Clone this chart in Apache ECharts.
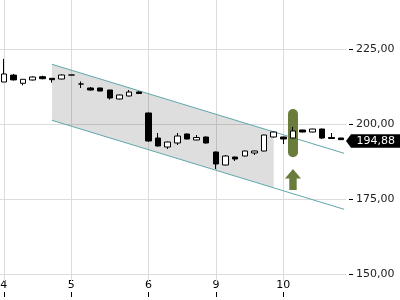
<!DOCTYPE html>
<html><head><meta charset="utf-8">
<script src="https://cdn.jsdelivr.net/npm/echarts@6/dist/echarts.min.js"></script>
<style>html,body{margin:0;padding:0;background:#fff}#c{width:400px;height:300px}</style>
</head><body><div id="c"></div>
<script>
// ---- data ----
const categories = [
  '4 09h','4 10h','4 11h','4 12h','4 13h','4 14h','4 15h',
  '5 09h','5 10h','5 11h','5 12h','5 13h','5 14h','5 15h','5 16h',
  '6 09h','6 10h','6 11h','6 12h','6 13h','6 14h','6 15h',
  '9 09h','9 10h','9 11h','9 12h','9 13h','9 14h','9 15h',
  '10 09h','10 10h','10 11h','10 12h','10 13h','10 14h','10 15h'
];
const dayStartIndex = [0, 7, 15, 22, 29];
const dayLabels = ['4', '5', '6', '9', '10'];
const openValues  = [214.1, 216.4, 213.67, 214.77, 215.87, 215.33, 215.1, 216.43, 213.43, 212.1, 212.1, 211.43, 208.43, 209.43, 210.77, 203.77, 195.43, 192.43, 193.77, 196.77, 194.77, 195.77, 190.77, 186.43, 189.1, 189.43, 190.43, 191.1, 195.77, 195.77, 195.43, 198.1, 197.43, 198.43, 195.6, 195.43];
const closeValues = [216.77, 214.8, 215.0, 215.77, 215.2, 214.87, 216.43, 216.43, 213.43, 211.43, 211.1, 208.77, 209.77, 210.77, 210.27, 194.43, 192.77, 194.1, 196.1, 195.1, 195.6, 193.77, 186.77, 189.43, 188.43, 191.1, 191.1, 196.43, 197.43, 195.1, 197.77, 197.43, 198.43, 195.43, 195.27, 194.88];
const lowValues   = [214.1, 214.6, 213.0, 214.6, 215.0, 213.87, 215.0, 216.43, 212.1, 211.2, 211.0, 208.27, 208.3, 209.3, 210.1, 194.2, 192.6, 191.77, 193.1, 195.0, 194.7, 193.6, 185.1, 186.3, 187.77, 189.3, 189.77, 191.0, 195.6, 193.43, 195.3, 197.3, 197.3, 195.1, 195.2, 194.8];
const highValues  = [221.8, 216.8, 215.0, 216.0, 216.2, 215.4, 216.6, 216.43, 214.27, 212.4, 212.2, 211.5, 209.9, 211.43, 211.0, 203.9, 197.1, 194.2, 197.1, 196.9, 196.43, 195.9, 190.9, 189.77, 189.2, 191.2, 191.2, 196.5, 197.6, 195.9, 199.1, 198.2, 198.5, 198.5, 197.1, 195.5];
const yTicks = [125, 250, 25]; // min, max, interval
// trend channel: [x position, upper value, lower value] at start and end
const channelStart = [5, 220.0, 201.33];
const channelEnd = [35.3, 190.33, 171.67];
const channelFillEnd = 28;
// signal markers
const signalIndex = 30;
const signalBar = [205.1, 189.0];
const signalArrow = [185.1, 178.1];
const lastPrice = 194.88;

// ---- chart ----
const chart = echarts.init(document.getElementById('c'), null, {renderer: 'canvas'});
const FONT = 'DejaVu Sans';
const fmt = v => v.toFixed(2).replace('.', ',');
const candleData = openValues.map((o, i) => [o, closeValues[i], lowValues[i], highValues[i]]);
const isDayStart = i => dayStartIndex.indexOf(i) >= 0;

chart.setOption({
  animation: false,
  backgroundColor: '#fff',
  grid: {left: -1, right: 54, top: -25.7, bottom: -49.3, containLabel: false, outerBoundsMode: 'none'},
  xAxis: [{
    type: 'category', data: categories, boundaryGap: true, position: 'bottom', offset: -57.3,
    axisLine: {show: true, onZero: false, lineStyle: {color: 'rgba(0,0,0,0)'}},
    axisTick: {show: true, alignWithLabel: true, interval: (i) => isDayStart(i), length: 5, inside: false, lineStyle: {color: '#000', width: 1}},
    axisLabel: {show: true, inside: true, margin: 1, interval: (i) => isDayStart(i),
      formatter: (v, i) => dayLabels[dayStartIndex.indexOf(i)] || '',
      color: '#000', fontSize: 11, fontFamily: FONT},
    splitLine: {show: false}
  }, {
    type: 'value', min: -0.5, max: 35.5, show: false
  }],
  yAxis: [{
    type: 'value', position: 'right', offset: 3, min: yTicks[0], max: yTicks[1], interval: yTicks[2],
    axisLine: {show: true, onZero: false, lineStyle: {color: 'rgba(0,0,0,0)'}},
    axisTick: {show: true, inside: false, length: 4, lineStyle: {color: '#000', width: 1}},
    axisLabel: {margin: 7, color: '#222', fontSize: 11, fontFamily: FONT, formatter: fmt},
    splitLine: {show: true, lineStyle: {color: '#dcdcdc', width: 1}}
  }],
  series: [
    { // vertical grid lines at day starts
      type: 'custom', xAxisIndex: 1, yAxisIndex: 0, silent: true, z: 1,
      data: dayStartIndex.map(i => [i]),
      renderItem: (params, api) => {
        const x = Math.round(api.coord([api.value(0), 200])[0]) + 0.5;
        return {type: 'line', shape: {x1: x, y1: 0, x2: x, y2: 281},
          style: {stroke: '#dcdcdc', lineWidth: 1}};
      }
    },
    { // channel
      type: 'custom', xAxisIndex: 1, yAxisIndex: 0, silent: true, z: 2,
      data: [[0]],
      renderItem: (params, api) => {
        const u0 = api.coord([channelStart[0], channelStart[1]]);
        const u1 = api.coord([channelEnd[0], channelEnd[1]]);
        const l0 = api.coord([channelStart[0], channelStart[2]]);
        const l1 = api.coord([channelEnd[0], channelEnd[2]]);
        const t = (channelFillEnd - channelStart[0]) / (channelEnd[0] - channelStart[0]);
        const uf = [u0[0] + (u1[0] - u0[0]) * t, u0[1] + (u1[1] - u0[1]) * t];
        const lf = [l0[0] + (l1[0] - l0[0]) * t, l0[1] + (l1[1] - l0[1]) * t];
        return {type: 'group', children: [
          {type: 'polygon', shape: {points: [u0, uf, lf, l0]}, style: {fill: 'rgba(0,0,0,0.13)'}},
          {type: 'line', shape: {x1: u0[0], y1: u0[1], x2: u1[0], y2: u1[1]}, style: {stroke: '#62a7ab', lineWidth: 1}},
          {type: 'line', shape: {x1: l0[0], y1: l0[1], x2: l1[0], y2: l1[1]}, style: {stroke: '#62a7ab', lineWidth: 1}}
        ]};
      }
    },
    { // signal markers
      type: 'custom', xAxisIndex: 1, yAxisIndex: 0, silent: true, z: 2,
      data: [[signalIndex]],
      renderItem: (params, api) => {
        const top = api.coord([api.value(0), signalBar[0]]);
        const bot = api.coord([api.value(0), signalBar[1]]);
        const tip = api.coord([api.value(0), signalArrow[0]]);
        const base = api.coord([api.value(0), signalArrow[1]]);
        const cx = top[0];
        const hy = tip[1] + 9.5;
        return {type: 'group', children: [
          {type: 'rect', shape: {x: cx - 5, y: top[1], width: 10, height: bot[1] - top[1], r: 5}, style: {fill: '#6a7c3b'}},
          {type: 'polygon', shape: {points: [[cx, tip[1]], [cx + 8, hy], [cx + 3.7, hy], [cx + 3.7, base[1]], [cx - 3.7, base[1]], [cx - 3.7, hy], [cx - 8, hy]]}, style: {fill: '#6a7c3b'}}
        ]};
      }
    },
    {
      type: 'candlestick', xAxisIndex: 0, yAxisIndex: 0, z: 3,
      data: candleData,
      barWidth: 6,
      itemStyle: {color: '#fff', color0: '#000', borderColor: '#000', borderColor0: '#000', borderWidth: 1}
    },
    { // last price label
      type: 'custom', xAxisIndex: 1, yAxisIndex: 0, silent: true, z: 5,
      data: [[35.5, lastPrice]],
      renderItem: (params, api) => {
        const p = api.coord([api.value(0), api.value(1)]);
        const x = p[0], y = p[1] + 1.3;
        return {type: 'group', children: [
          {type: 'polygon', shape: {points: [[x, y], [x + 5, y - 6.7], [x + 60, y - 6.7], [x + 60, y + 6.7], [x + 5, y + 6.7]]}, style: {fill: '#000'}},
          {type: 'text', style: {x: x + 10.5, y: y, text: fmt(api.value(1)), fill: '#fff', font: '11px "' + FONT + '"', verticalAlign: 'middle', align: 'left'}}
        ]};
      }
    }
  ]
});
</script></body></html>
